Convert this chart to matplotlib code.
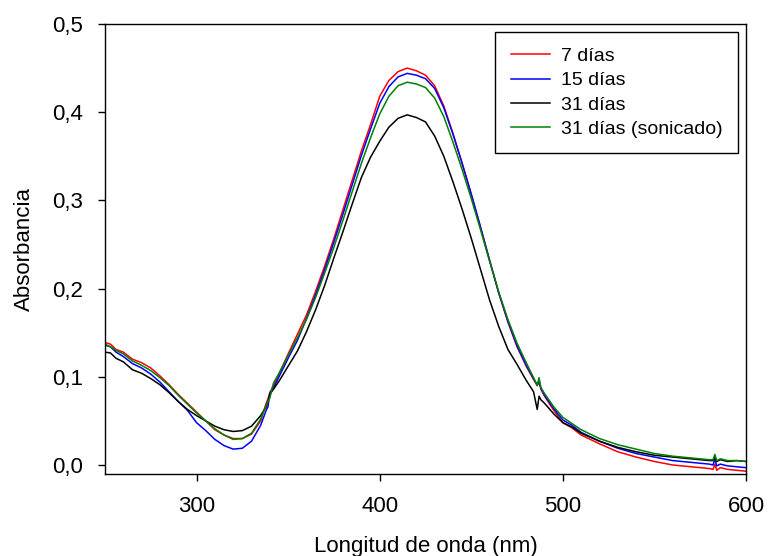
import numpy as np
import matplotlib
matplotlib.use("Agg")
import matplotlib.pyplot as plt
from matplotlib.ticker import FuncFormatter, FixedLocator

plt.rcParams['font.family'] = ['Liberation Sans', 'DejaVu Sans']

# wavelength grid (nm), shared by all spectra
wl = [250, 253, 256, 260, 265, 270, 275, 280, 285, 290, 295, 300, 305, 310, 315, 320,
      325, 330, 335, 338, 339, 340, 342, 345, 350, 355, 360, 365, 370, 375, 380, 385,
      390, 395, 400, 405, 410, 415, 420, 425, 430, 435, 440, 445, 450, 455, 460, 465,
      470, 475, 480, 484, 486, 487, 488, 490, 495, 500, 505, 510, 520, 530, 540, 550,
      560, 570, 580, 582, 583, 584, 586, 590, 595, 600]

abs_7d = [0.139, 0.137, 0.131, 0.128, 0.120, 0.116, 0.110, 0.101, 0.091, 0.080, 0.070, 0.060,
          0.050, 0.040, 0.034, 0.030, 0.030, 0.035, 0.050, 0.070, 0.075, 0.082, 0.090, 0.103,
          0.126, 0.148, 0.170, 0.197, 0.226, 0.257, 0.290, 0.323, 0.356, 0.386, 0.418, 0.436,
          0.446, 0.450, 0.447, 0.442, 0.430, 0.407, 0.376, 0.342, 0.307, 0.270, 0.232, 0.195,
          0.162, 0.134, 0.112, 0.097, 0.090, 0.094, 0.086, 0.078, 0.062, 0.048, 0.042, 0.034,
          0.024, 0.015, 0.009, 0.004, 0.000, -0.002, -0.004, -0.005, 0.001, -0.006, -0.003,
          -0.005, -0.006, -0.007]

abs_15d = [0.136, 0.134, 0.128, 0.123, 0.115, 0.110, 0.103, 0.094, 0.083, 0.072, 0.062, 0.048,
           0.039, 0.029, 0.022, 0.018, 0.019, 0.027, 0.045, 0.062, 0.066, 0.082, 0.087, 0.100,
           0.121, 0.141, 0.166, 0.193, 0.222, 0.253, 0.285, 0.318, 0.351, 0.381, 0.410, 0.429,
           0.440, 0.444, 0.442, 0.438, 0.427, 0.405, 0.375, 0.342, 0.307, 0.270, 0.232, 0.195,
           0.163, 0.135, 0.113, 0.098, 0.091, 0.095, 0.087, 0.079, 0.064, 0.051, 0.045, 0.037,
           0.027, 0.019, 0.013, 0.009, 0.005, 0.003, 0.001, 0.000, 0.007, -0.001, 0.001,
           -0.001, -0.002, -0.003]

abs_31d = [0.128, 0.127, 0.121, 0.117, 0.108, 0.104, 0.098, 0.091, 0.082, 0.072, 0.063, 0.056,
           0.050, 0.044, 0.040, 0.038, 0.039, 0.044, 0.056, 0.066, 0.072, 0.080, 0.086, 0.095,
           0.112, 0.129, 0.151, 0.176, 0.204, 0.235, 0.265, 0.296, 0.326, 0.349, 0.367, 0.383,
           0.393, 0.397, 0.394, 0.389, 0.373, 0.350, 0.321, 0.290, 0.257, 0.222, 0.187, 0.157,
           0.131, 0.114, 0.096, 0.083, 0.063, 0.078, 0.074, 0.070, 0.058, 0.048, 0.043, 0.036,
           0.027, 0.020, 0.015, 0.011, 0.009, 0.007, 0.005, 0.005, 0.009, 0.004, 0.006,
           0.004, 0.005, 0.004]

abs_31d_son = [0.137, 0.134, 0.130, 0.126, 0.118, 0.113, 0.107, 0.099, 0.090, 0.079, 0.069, 0.059,
               0.050, 0.041, 0.034, 0.029, 0.030, 0.036, 0.052, 0.068, 0.072, 0.076, 0.093, 0.104,
               0.124, 0.144, 0.165, 0.190, 0.218, 0.247, 0.278, 0.310, 0.342, 0.371, 0.398, 0.418,
               0.430, 0.434, 0.432, 0.428, 0.416, 0.395, 0.366, 0.335, 0.302, 0.267, 0.231, 0.196,
               0.165, 0.138, 0.116, 0.099, 0.090, 0.099, 0.088, 0.081, 0.066, 0.054, 0.047, 0.040,
               0.030, 0.023, 0.018, 0.013, 0.010, 0.008, 0.006, 0.006, 0.012, 0.005, 0.007,
               0.005, 0.005, 0.004]

series = [(abs_7d, '7 días', '#ff0000'),
          (abs_15d, '15 días', '#0000ff'),
          (abs_31d, '31 días', '#000000'),
          (abs_31d_son, '31 días (sonicado)', '#008000')]

fig = plt.figure(figsize=(7.69, 5.56), dpi=100)
ax = fig.add_axes([105/769, 1 - 474/556, 641/769, 450/556])

for ys, lab, col in series:
    ax.plot(wl, ys, color=col, lw=1.1, label=lab)

ax.set_xlim(250, 600)
ax.set_ylim(-0.0102, 0.5)
ax.xaxis.set_major_locator(FixedLocator([300, 400, 500, 600]))
ax.yaxis.set_major_locator(FixedLocator([0.0, 0.1, 0.2, 0.3, 0.4, 0.5]))
ax.yaxis.set_major_formatter(FuncFormatter(lambda v, p: ('%.1f' % v).replace('.', ',')))
ax.tick_params(axis='both', direction='out', length=5, width=1.0, pad=11,
               labelsize=16, top=False, right=False)
for s in ax.spines.values():
    s.set_linewidth(1.0)

ax.set_xlabel('Longitud de onda (nm)', fontsize=16)
ax.set_ylabel('Absorbancia', fontsize=16)
ax.xaxis.set_label_coords(0.5, -0.137)
ax.yaxis.set_label_coords(-0.11, 0.5)

# legend box with square black frame, top right
leg = ax.legend(loc='upper right', bbox_to_anchor=(0.9875, 0.982), borderaxespad=0,
                fontsize=14, fancybox=False, framealpha=1, edgecolor='black',
                handlelength=2.0, handletextpad=0.57, labelspacing=0.34, borderpad=0.8)
leg.get_frame().set_linewidth(1.0)

fig.savefig('out.png', dpi=100)
